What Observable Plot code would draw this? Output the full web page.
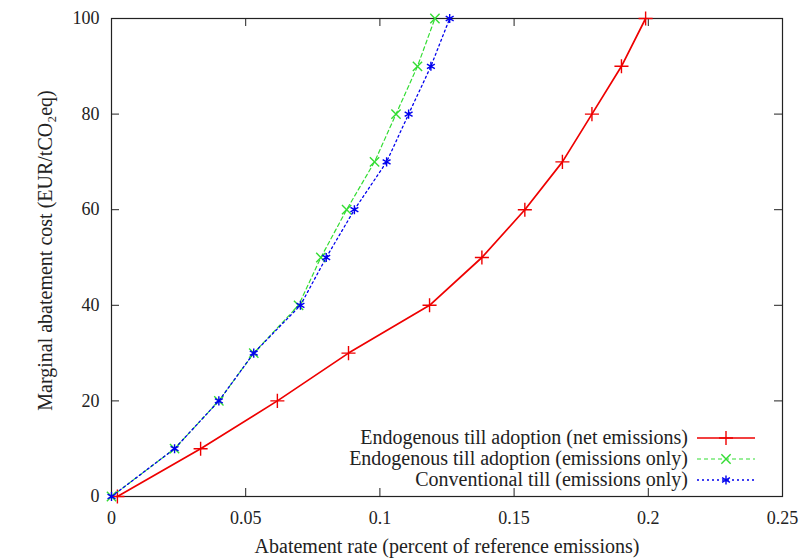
<!DOCTYPE html>
<html>
<head>
<meta charset="utf-8">
<script src="https://cdn.jsdelivr.net/npm/d3@7"></script>
<script src="https://cdn.jsdelivr.net/npm/@observablehq/plot@0.6"></script>
<style>
  html, body { margin: 0; padding: 0; background: #fff; }
  #chart { width: 804px; height: 559px; }
</style>
</head>
<body>
<div id="chart"></div>
<script>
// Marginal abatement cost (y) for each curve
const costLevels = [0, 10, 20, 30, 40, 50, 60, 70, 80, 90, 100];
// Abatement rate (x) for each curve
const netEmissionsEndo = [0.0022, 0.0332, 0.0618, 0.0883, 0.1185, 0.1380, 0.1540, 0.1680, 0.1790, 0.1900, 0.1990];
const emissionsOnlyEndo = [0.0, 0.0235, 0.0400, 0.0530, 0.0697, 0.0780, 0.0876, 0.0980, 0.1060, 0.1140, 0.1205];
const emissionsOnlyConv = [0.0, 0.0235, 0.0400, 0.0530, 0.0704, 0.0800, 0.0905, 0.1025, 0.1107, 0.1190, 0.1260];

const seriesNames = [
  "Endogenous till adoption (net emissions)",
  "Endogenous till adoption (emissions only)",
  "Conventional till (emissions only)"
];
const seriesColors = ["#ee0000", "#33dd33", "#0000ee"];
const seriesDash = [null, "4,3", "2,3"];
const seriesSymbols = ["plus", "times", "asterisk"];

const xTicks = [0, 0.05, 0.1, 0.15, 0.2, 0.25];
const yTicks = [0, 20, 40, 60, 80, 100];
const xTickLabels = ["0", "0.05", "0.1", "0.15", "0.2", "0.25"];
const yTickLabels = ["0", "20", "40", "60", "80", "100"];
const xTitle = "Abatement rate (percent of reference emissions)";
const yTitle = "Marginal abatement cost (EUR/tCO\u2082eq)";

const seriesX = [netEmissionsEndo, emissionsOnlyEndo, emissionsOnlyConv];
const series = seriesX.map((xs, s) => xs.map((x, i) => ({x, y: costLevels[i], s})));

const W = 804, H = 559;
const mL = 111, mR = 22, mT = 18, mB = 63;
const fw = W - mL - mR, fh = H - mT - mB;
const tickLen = 8;
const font = "'Liberation Serif', 'Times New Roman', serif";
const tickFs = 18, titleFs = 20;
const symR = [4.6, 4.3, 4.3];
const lineW = [1.7, 1.2, 1.3];
const ink = "#222";

const marks = [
  Plot.frame({stroke: ink, strokeWidth: 1.2}),
  Plot.tickX(xTicks, {x: d => d, insetTop: fh - tickLen, stroke: ink}),
  Plot.tickX(xTicks, {x: d => d, insetBottom: fh - tickLen, stroke: ink}),
  Plot.tickY(yTicks, {y: d => d, insetRight: fw - tickLen, stroke: ink}),
  Plot.tickY(yTicks, {y: d => d, insetLeft: fw - tickLen, stroke: ink}),
  Plot.axisX(xTicks, {tickSize: 0, tickPadding: 15, tickFormat: (d, i) => xTickLabels[i], label: null, fontSize: tickFs, fill: ink}),
  Plot.axisY(yTicks, {tickSize: 0, tickPadding: 12, tickFormat: (d, i) => yTickLabels[i], label: null, fontSize: tickFs, fill: ink}),
  Plot.text([xTitle], {frameAnchor: "bottom", text: d => d, dy: 50, lineAnchor: "middle", textAnchor: "middle", fontSize: titleFs, fill: ink}),
  Plot.text([yTitle], {frameAnchor: "left", text: d => d, rotate: -90, dx: -66, dy: -7, lineAnchor: "middle", textAnchor: "middle", fontSize: titleFs, fill: ink})
];
series.forEach((data, s) => {
  marks.push(Plot.line(data, {x: "x", y: "y", stroke: seriesColors[s], strokeWidth: lineW[s], strokeDasharray: seriesDash[s]}));
  marks.push(Plot.dot(data, {x: "x", y: "y", stroke: seriesColors[s], symbol: () => seriesSymbols[s], r: symR[s], strokeWidth: 1.4}));
});

const plot = Plot.plot({
  width: W, height: H,
  marginLeft: mL, marginRight: mR, marginTop: mT, marginBottom: mB,
  style: {fontFamily: font, fontSize: tickFs + "px", background: "#fff", color: ink},
  x: {domain: [0, 0.25]},
  y: {domain: [0, 100]},
  marks
});

// Legend inside the plot area, bottom right (gnuplot style)
const svg = d3.select(plot);
const g = svg.append("g").attr("font-size", titleFs).attr("font-family", font);
const right = W - mR, bottom = H - mB;
const d3Symbols = [d3.symbolPlus, d3.symbolTimes, d3.symbolAsterisk];
seriesNames.forEach((name, s) => {
  const cy = bottom - 58 + s * 21;
  g.append("text").attr("x", right - 94).attr("y", cy).attr("dy", "0.32em")
    .attr("text-anchor", "end").attr("fill", ink).text(name);
  g.append("line").attr("x1", right - 85).attr("x2", right - 27).attr("y1", cy).attr("y2", cy)
    .attr("stroke", seriesColors[s]).attr("stroke-width", lineW[s])
    .attr("stroke-dasharray", seriesDash[s]);
  g.append("path").attr("transform", `translate(${right - 56},${cy})`)
    .attr("d", d3.symbol(d3Symbols[s], Math.PI * symR[s] * symR[s])())
    .attr("fill", "none").attr("stroke", seriesColors[s]).attr("stroke-width", 1.4);
});

document.getElementById("chart").appendChild(plot);
</script>
</body>
</html>
